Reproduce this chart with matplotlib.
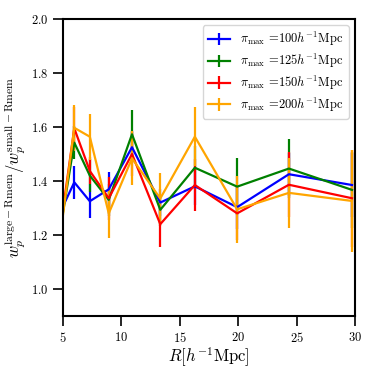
import matplotlib
matplotlib.use('Agg')
import matplotlib.pyplot as plt

plt.rcParams['font.family'] = 'serif'
plt.rcParams['font.serif'] = ['cmr10']
plt.rcParams['mathtext.fontset'] = 'cm'
plt.rcParams['axes.formatter.use_mathtext'] = True

# separation bins (first bin sits just left of the plotted range)
R = [4.89, 5.98, 7.31, 8.93, 10.92, 13.34, 16.30, 19.92, 24.35, 29.75]

ratio_100 = [1.295, 1.395, 1.325, 1.369, 1.525, 1.320, 1.380, 1.303, 1.425, 1.385]
err_100 = [0.05, 0.06, 0.063, 0.066, 0.06, 0.05, 0.07, 0.08, 0.08, 0.12]

ratio_125 = [1.250, 1.542, 1.420, 1.330, 1.573, 1.293, 1.449, 1.379, 1.446, 1.367]
err_125 = [0.05, 0.06, 0.06, 0.06, 0.09, 0.06, 0.08, 0.105, 0.108, 0.14]

ratio_150 = [1.256, 1.595, 1.437, 1.336, 1.500, 1.240, 1.385, 1.280, 1.386, 1.336]
err_150 = [0.05, 0.08, 0.05, 0.08, 0.08, 0.083, 0.095, 0.10, 0.12, 0.18]

ratio_200 = [1.233, 1.597, 1.564, 1.280, 1.484, 1.335, 1.564, 1.295, 1.356, 1.326]
err_200 = [0.05, 0.085, 0.085, 0.09, 0.10, 0.095, 0.11, 0.125, 0.13, 0.19]

pi_max = [100, 125, 150, 200]
colors = ['blue', 'green', 'red', 'orange']
series = [(ratio_100, err_100), (ratio_125, err_125),
          (ratio_150, err_150), (ratio_200, err_200)]

fig = plt.figure(figsize=(3.74, 3.73), dpi=100)
ax = fig.add_axes([0.168, 0.153, 0.781, 0.796])

for (vals, errs), pm, c in zip(series, pi_max, colors):
    ax.errorbar(R, vals, yerr=errs, color=c, lw=1.6, elinewidth=1.6,
                label=r'$\pi_{\rm max}$ =%d$h^{-1}$Mpc' % pm)

ax.set_xlim(5, 30)
ax.set_ylim(0.9, 2.0)
ax.set_xticks([5, 10, 15, 20, 25, 30])
ax.set_yticks([1.0, 1.2, 1.4, 1.6, 1.8, 2.0])
ax.set_xlabel(r'$R[h^{-1}{\rm Mpc}]$', fontsize=12, labelpad=1)
ax.set_ylabel(r'$w_p^{\rm large-Rmem}/w_p^{\rm small-Rmem}$', fontsize=12, labelpad=2)
ax.tick_params(direction='out', length=7, width=1.2, labelsize=9)
for s in ax.spines.values():
    s.set_linewidth(1.5)

ax.legend(loc='upper right', fontsize=9, handlelength=1.8,
          labelspacing=0.3, borderpad=0.4)

fig.savefig('out.png', dpi=100)
